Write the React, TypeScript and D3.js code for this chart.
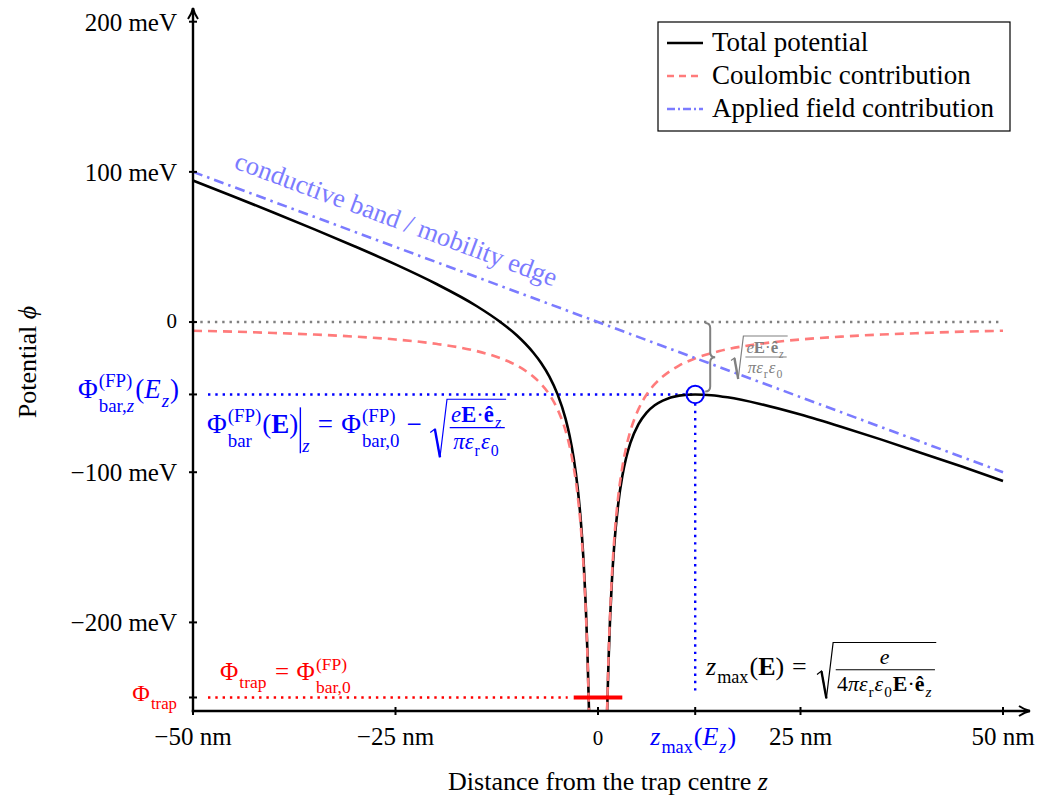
import React, { useEffect, useRef } from "react";
import * as d3 from "d3";

// values: z in nm, potential in meV
const totalLeftZ = [-50, -45, -40, -35, -30, -25, -20, -15, -12, -10, -8, -7, -6, -5, -4, -3.5, -3, -2.5, -2, -1.7, -1.5, -1.3, -1.11];
const totalLeftV = [94.2, 83.6, 72.8, 61.7, 50.3, 38.4, 25.5, 10.7, -0.2, -9, -20.3, -27.4, -36.3, -48, -64.5, -75.9, -90.7, -111, -141, -167.2, -190.3, -220.5, -259];
const totalRightZ = [1.13, 1.3, 1.5, 1.7, 2, 2.5, 3, 3.5, 4, 5, 6, 7, 8, 10, 12, 14, 16, 20, 25, 30, 35, 40, 45, 50];
const totalRightV = [-259, -225.7, -196.3, -174, -149, -121, -102.7, -89.9, -80.5, -68, -60.3, -55.4, -52.3, -49, -48.2, -48.7, -50.1, -54.5, -61.6, -69.7, -78.3, -87.3, -96.4, -105.8];
const coulombLeftZ = [-50, -45, -40, -35, -30, -25, -20, -15, -12, -10, -8, -7, -6, -5, -4, -3.5, -3, -2.5, -2, -1.7, -1.5, -1.3, -1.12];
const coulombLeftV = [-5.8, -6.4, -7.3, -8.3, -9.7, -11.6, -14.5, -19.3, -24.2, -29, -36.3, -41.4, -48.3, -58, -72.5, -82.9, -96.7, -116, -145, -170.6, -193.3, -223.1, -259];
const coulombRightZ = [1.12, 1.3, 1.5, 1.7, 2, 2.5, 3, 3.5, 4, 5, 6, 7, 8, 10, 12, 15, 20, 25, 30, 35, 40, 45, 50];
const coulombRightV = [-259, -223.1, -193.3, -170.6, -145, -116, -96.7, -82.9, -72.5, -58, -48.3, -41.4, -36.3, -29, -24.2, -19.3, -14.5, -11.6, -9.7, -8.3, -7.3, -6.4, -5.8];
const appliedZ = [-50, 50];
const appliedV = [100, -100];

const zMax = 12;
const barLevel = -48.2;
const trapLevel = -250;
const trapHalfWidth = 3;

const xTicks = [-50, -25, 0, 25, 50];
const xTickLabels = ["−50 nm", "−25 nm", "0", "25 nm", "50 nm"];
const yTicks = [200, 100, 0, -100, -200];
const yTickLabels = ["200 meV", "100 meV", "0", "−100 meV", "−200 meV"];
const legendLabels = ["Total potential", "Coulombic contribution", "Applied field contribution"];

const FONT = "'Liberation Serif', 'DejaVu Serif', serif";
const RED = "#ff7b7b";
const LBLUE = "#7b7bff";
const BLUE = "#0000ff";
const GRAY = "#808080";

type Run = { t: string; it?: boolean; bf?: boolean };
type Item = any;
type G = d3.Selection<SVGGElement, unknown, null, undefined>;

function put(g: G, r: Run, x: number, y: number, size: number) {
  const t = g
    .append("text")
    .attr("x", x)
    .attr("y", y)
    .attr("font-size", size)
    .attr("font-style", r.it ? "italic" : "normal")
    .attr("font-weight", r.bf ? "bold" : "normal")
    .text(r.t);
  return (t.node() as SVGTextElement).getComputedTextLength();
}

function runList(g: G, rs: Run[], x: number, y: number, size: number) {
  let cx = x;
  for (const r of rs) cx += put(g, r, cx, y, size);
  return cx - x;
}

// tiny math layout: runs, scripts, evaluation bar, square root of a fraction
function math(g: G, items: Item[], x: number, y: number, s: number, color: string): number {
  let cx = x;
  for (const it of items) {
    if ("t" in it) cx += put(g, it, cx, y, s);
    else if ("sp" in it) cx += it.sp * s;
    else if ("vbar" in it) {
      g.append("line")
        .attr("x1", cx + 2).attr("x2", cx + 2)
        .attr("y1", y - 0.95 * s).attr("y2", y + 0.75 * s)
        .attr("stroke", color).attr("stroke-width", 1.4);
      cx += 4 + runList(g, it.vbar, cx + 4, y + 0.7 * s, 0.7 * s);
    } else if ("root" in it) {
      const fs = 0.84 * s;
      const num = g.append("g");
      const den = g.append("g");
      const wn = math(num, it.root[0], 0, 0, fs, color);
      const wd = math(den, it.root[1], 0, 0, fs, color);
      const w = Math.max(wn, wd) + 0.3 * s;
      const rx = cx + 0.1 * s;
      const left = rx + 0.62 * s;
      const top = y - 1.25 * s;
      const bot = y + 0.9 * s;
      g.append("path")
        .attr("d", `M${rx},${y - 0.02 * s}L${rx + 0.17 * s},${y - 0.15 * s}L${rx + 0.36 * s},${bot}L${left},${top}L${left + w},${top}`)
        .attr("fill", "none").attr("stroke", color).attr("stroke-width", 1.2);
      g.append("line")
        .attr("x1", rx + 0.17 * s).attr("y1", y - 0.15 * s)
        .attr("x2", rx + 0.36 * s).attr("y2", bot)
        .attr("stroke", color).attr("stroke-width", 2.4);
      g.append("line")
        .attr("x1", left + 0.1 * s).attr("x2", left + w - 0.05 * s)
        .attr("y1", y - 0.2 * s).attr("y2", y - 0.2 * s)
        .attr("stroke", color).attr("stroke-width", 1.1);
      num.attr("transform", `translate(${left + (w - wn) / 2},${y - 0.42 * s})`);
      den.attr("transform", `translate(${left + (w - wd) / 2},${y + 0.6 * s})`);
      cx = left + w + 0.05 * s;
    } else {
      const ss = 0.7 * s;
      const both = it.sup && it.sub;
      const w1 = it.sup ? runList(g, it.sup, cx + 1, y - 0.42 * s, ss) : 0;
      const w2 = it.sub ? runList(g, it.sub, cx + 1, y + (both ? 0.52 : 0.3) * s, ss) : 0;
      cx += Math.max(w1, w2) + 2;
    }
  }
  return cx - x;
}

// draw a formula, then place it: anchor 0 = start, 0.5 = middle, 1 = end
function formula(parent: any, items: Item[], x: number, y: number, s: number, color: string, anchor = 0) {
  const g: G = parent.append("g").attr("fill", color).attr("font-family", FONT);
  const w = math(g, items, 0, 0, s, color);
  g.attr("transform", `translate(${x - anchor * w},${y})`);
  return g;
}

const PhiFP = (sub: Run[]) => [{ t: "Φ" }, { sup: [{ t: "(FP)" }], sub }];
const eFrac = [{ t: "e", it: true }, { t: "E", bf: true }, { t: "·" }, { t: "ê", bf: true }, { sub: [{ t: "z", it: true }] }];
const piEps = [{ t: "π", it: true }, { t: "ε", it: true }, { sub: [{ t: "r" }] }, { t: "ε", it: true }, { sub: [{ t: "0" }] }];

const App = () => {
  const svgRef = useRef<SVGSVGElement>(null);

  useEffect(() => {
    const svg = d3.select(svgRef.current);
    svg.selectAll("*").remove();
    svg.attr("font-family", FONT);

    const x = d3.scaleLinear().domain([-50, 50]).range([193, 1003]);
    const y = d3.scaleLinear().domain([-259, 200]).range([711, 21.7]);
    const x0 = x(-50);
    const yb = y(-259);

    const line = d3
      .line<[number, number]>()
      .x((d) => x(d[0]))
      .y((d) => y(d[1]))
      .curve(d3.curveMonotoneX);
    const pts = (zs: number[], vs: number[]) => zs.map((z, i) => [z, vs[i]] as [number, number]);

    // reference levels
    svg.append("line")
      .attr("x1", x0).attr("x2", x(50)).attr("y1", y(0)).attr("y2", y(0))
      .attr("stroke", GRAY).attr("stroke-width", 2.4).attr("stroke-dasharray", "2.4 4.9");
    svg.append("line")
      .attr("x1", x0 + 15).attr("x2", x(zMax)).attr("y1", y(barLevel)).attr("y2", y(barLevel))
      .attr("stroke", BLUE).attr("stroke-width", 2.4).attr("stroke-dasharray", "2.4 4.9");
    svg.append("line")
      .attr("x1", x(zMax)).attr("x2", x(zMax)).attr("y1", y(barLevel) + 9).attr("y2", y(trapLevel) - 2)
      .attr("stroke", BLUE).attr("stroke-width", 2.4).attr("stroke-dasharray", "2.4 4.9");
    svg.append("line")
      .attr("x1", x0 + 15).attr("x2", x(-trapHalfWidth) - 6).attr("y1", y(trapLevel)).attr("y2", y(trapLevel))
      .attr("stroke", "#ff0000").attr("stroke-width", 2.4).attr("stroke-dasharray", "2.4 4.9");

    // curves
    const total = svg.append("g").attr("fill", "none").attr("stroke", "#000").attr("stroke-width", 2.6);
    total.append("path").attr("d", line(pts(totalLeftZ, totalLeftV)));
    total.append("path").attr("d", line(pts(totalRightZ, totalRightV)));

    const coul = svg.append("g").attr("fill", "none").attr("stroke", RED).attr("stroke-width", 2.6).attr("stroke-dasharray", "9 6");
    coul.append("path").attr("d", line(pts(coulombLeftZ, coulombLeftV)));
    coul.append("path").attr("d", line(pts(coulombRightZ, coulombRightV)));

    svg.append("path")
      .attr("d", line(pts(appliedZ, appliedV)))
      .attr("fill", "none").attr("stroke", LBLUE).attr("stroke-width", 2.6).attr("stroke-dasharray", "10 5 2.5 5");

    // trap level bar and barrier marker
    svg.append("line")
      .attr("x1", x(-trapHalfWidth)).attr("x2", x(trapHalfWidth)).attr("y1", y(trapLevel)).attr("y2", y(trapLevel))
      .attr("stroke", "#ff0000").attr("stroke-width", 4);
    svg.append("circle")
      .attr("cx", x(zMax)).attr("cy", y(barLevel)).attr("r", 8.7)
      .attr("fill", "none").attr("stroke", BLUE).attr("stroke-width", 2);

    // brace for barrier lowering
    const bx = x(zMax) + 10, a = 5;
    const b1 = y(0) + 1, b2 = y(barLevel) - 3, bm = (b1 + b2) / 2;
    svg.append("path")
      .attr("d", `M${bx},${b1}Q${bx + a},${b1} ${bx + a},${b1 + a}L${bx + a},${bm - a}Q${bx + a},${bm} ${bx + 2 * a},${bm}Q${bx + a},${bm} ${bx + a},${bm + a}L${bx + a},${b2 - a}Q${bx + a},${b2} ${bx},${b2}`)
      .attr("fill", "none").attr("stroke", GRAY).attr("stroke-width", 2);

    // axes
    const ax = svg.append("g").attr("stroke", "#000").attr("stroke-width", 2.4).attr("fill", "none");
    ax.append("line").attr("x1", x0).attr("x2", x0).attr("y1", yb + 1.2).attr("y2", 8);
    ax.append("line").attr("x1", x0 - 1.2).attr("x2", 1030).attr("y1", yb).attr("y2", yb);
    ax.append("path").attr("d", `M${x0 - 5},${19}Q${x0 - 1},${13} ${x0},${8}Q${x0 + 1},${13} ${x0 + 5},${19}`).attr("stroke-width", 2);
    ax.append("path").attr("d", `M${1019},${yb - 5}Q${1025},${yb - 1} ${1030},${yb}Q${1025},${yb + 1} ${1019},${yb + 5}`).attr("stroke-width", 2);

    [...xTicks, zMax].forEach((t) => {
      ax.append("line").attr("x1", x(t)).attr("x2", x(t)).attr("y1", yb - 4).attr("y2", yb + 4).attr("stroke-width", 2);
    });
    [...yTicks, barLevel, trapLevel].forEach((t) => {
      ax.append("line").attr("x1", x0 - 4).attr("x2", x0 + 4).attr("y1", y(t)).attr("y2", y(t)).attr("stroke-width", 2);
    });

    xTicks.forEach((t, i) => {
      const zero = xTickLabels[i] === "0";
      svg.append("text")
        .attr("x", x(t)).attr("y", 745)
        .attr("text-anchor", "middle").attr("font-size", zero ? 21 : 25)
        .text(xTickLabels[i]);
    });
    yTicks.forEach((t, i) => {
      const zero = yTickLabels[i] === "0";
      svg.append("text")
        .attr("x", 177).attr("y", y(t) + (zero ? 6 : 9))
        .attr("text-anchor", "end").attr("font-size", zero ? 21 : 25)
        .text(yTickLabels[i]);
    });

    // axis titles
    svg.append("text")
      .attr("x", 608).attr("y", 790).attr("text-anchor", "middle").attr("font-size", 26)
      .text("Distance from the trap centre ")
      .append("tspan").attr("font-style", "italic").text("z");
    svg.append("text")
      .attr("transform", `translate(36,${362}) rotate(-90)`)
      .attr("text-anchor", "middle").attr("font-size", 26)
      .text("Potential ")
      .append("tspan").attr("font-style", "italic").text("ϕ");

    // label along the applied-field line
    const ang = (Math.atan2(y(appliedV[1]) - y(appliedV[0]), x(appliedZ[1]) - x(appliedZ[0])) * 180) / Math.PI;
    svg.append("text")
      .attr("transform", `translate(${x(-45.3) + 2},${y(90.6) - 18}) rotate(${ang})`)
      .attr("font-size", 26.5).attr("fill", LBLUE)
      .text("conductive band / mobility edge");

    // formulas
    formula(svg, [...PhiFP([{ t: "bar," }, { t: "z", it: true }]), { t: "(" }, { t: "E", it: true }, { sub: [{ t: "z", it: true }] }, { t: ")" }],
      179, y(barLevel) + 4, 27, BLUE, 1);
    formula(svg, [...PhiFP([{ t: "bar" }]), { t: "(" }, { t: "E", bf: true }, { t: ")" }, { vbar: [{ t: "z", it: true }] },
      { sp: 0.3 }, { t: "=" }, { sp: 0.3 }, ...PhiFP([{ t: "bar,0" }]), { sp: 0.22 }, { t: "−" }, { sp: 0.22 },
      { root: [eFrac, piEps] }], 207, 433, 27, BLUE);
    formula(svg, [{ t: "Φ" }, { sub: [{ t: "trap" }] }], 178, y(trapLevel) + 4, 24, "#ff0000", 1);
    formula(svg, [{ t: "Φ" }, { sub: [{ t: "trap" }] }, { sp: 0.3 }, { t: "=" }, { sp: 0.3 }, ...PhiFP([{ t: "bar,0" }])],
      220, y(trapLevel) - 17, 25, "#ff0000");
    formula(svg, [{ t: "z", it: true }, { sub: [{ t: "max" }] }, { t: "(" }, { t: "E", it: true }, { sub: [{ t: "z", it: true }] }, { t: ")" }],
      x(zMax) - 2, 745, 26, BLUE, 0.5);
    formula(svg, [{ t: "z", it: true }, { sub: [{ t: "max" }] }, { t: "(" }, { t: "E", bf: true }, { t: ")" }, { sp: 0.3 }, { t: "=" }, { sp: 0.3 },
      { root: [[{ t: "e", it: true }], [{ t: "4" }, ...piEps, { t: "E", bf: true }, { t: "·" }, { t: "ê", bf: true }, { sub: [{ t: "z", it: true }] }]] }],
      706, 675, 26, "#000");
    formula(svg, [{ root: [eFrac, piEps] }], 729, 361, 20, GRAY);

    // legend
    const lg = svg.append("g");
    lg.append("rect").attr("x", 658).attr("y", 22).attr("width", 352).attr("height", 109)
      .attr("fill", "#fff").attr("stroke", "#000").attr("stroke-width", 1.2);
    const styles = [
      { c: "#000", d: null },
      { c: RED, d: "7 5" },
      { c: LBLUE, d: "8 3 2 3" },
    ];
    legendLabels.forEach((lab, i) => {
      const ly = 43 + i * 33;
      lg.append("line").attr("x1", 667).attr("x2", 703).attr("y1", ly).attr("y2", ly)
        .attr("stroke", styles[i].c).attr("stroke-width", 2.6).attr("stroke-dasharray", styles[i].d);
      lg.append("text").attr("x", 712).attr("y", ly + 8).attr("font-size", 27).text(lab);
    });
  }, []);

  return (
    <div>
      <svg ref={svgRef} width={1039} height={802} style={{ position: "absolute", left: 0, top: 0 }}></svg>
    </div>
  );
};

export default App;
